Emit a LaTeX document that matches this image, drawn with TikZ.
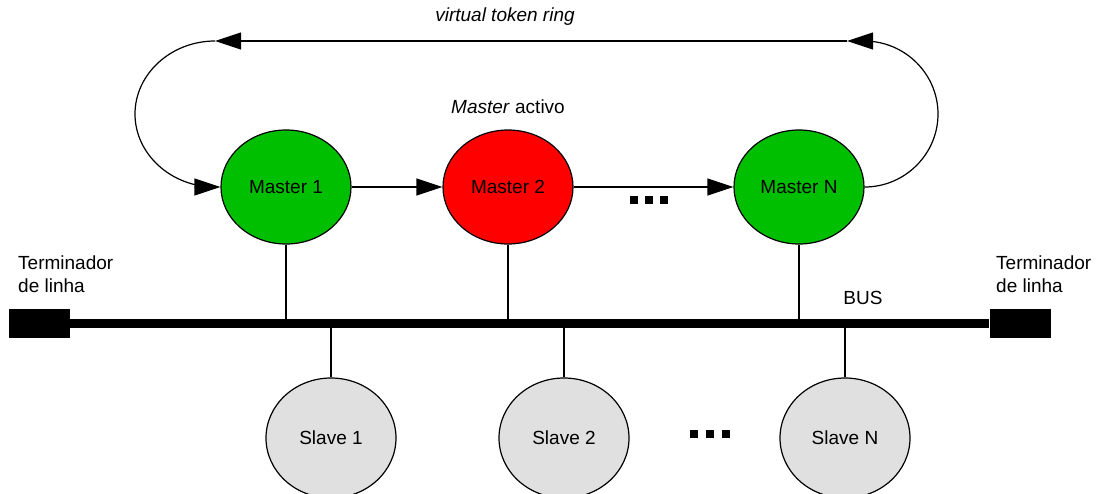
\documentclass[tikz,border=0pt]{standalone}
\usepackage{fontspec}
\setmainfont{Liberation Sans}
\usetikzlibrary{shapes.geometric,arrows.meta}
\definecolor{mgreen}{RGB}{0,190,0}
\definecolor{mred}{RGB}{255,0,0}
\definecolor{sgrey}{RGB}{224,224,224}
\newcommand{\lblfont}{\fontsize{19}{22.5}\selectfont}
\begin{document}
\begin{tikzpicture}[x=1pt,y=-1pt,
  every node/.style={font=\lblfont},
  station/.style={ellipse, draw=black, line width=1.2pt, minimum width=130pt,
    minimum height=114pt, inner sep=0pt},
  master/.style={station, fill=mgreen},
  activemaster/.style={station, fill=mred},
  slave/.style={station, fill=sgrey, minimum height=120pt},
  wire/.style={draw=black, line width=1.2pt},
  ring/.style={wire, -{Triangle[length=26pt,width=17pt]}},
  busline/.style={line width=9pt},
  terminator/.style={rectangle, fill=black, minimum width=61pt,
    minimum height=29pt, inner sep=0pt},
  txt/.style={inner sep=0pt},
  dotsq/.style={fill=black}
]
\useasboundingbox (0,0) rectangle (1100,493);

% stations
\node[master] (M1) at (286,187) {Master 1};
\node[activemaster] (M2) at (508,187) {Master 2};
\node[master] (MN) at (799,187) {Master N};
\node[slave] (S1) at (331,438) {Slave 1};
\node[slave] (S2) at (564,438) {Slave 2};
\node[slave] (SN) at (845,438) {Slave N};

% bus with line terminators
\node[terminator] (TL) at (39.5,323.5) {};
\node[terminator] (TR) at (1020,323.5) {};
\draw[busline] (TL.east) -- (TR.west);

% drops to the bus
\foreach \n in {M1,M2,MN} \draw[wire] (\n.south) -- (\n.south |- TL.center);
\foreach \n in {S1,S2,SN} \draw[wire] (\n.north) -- (\n.north |- TL.center);

% token passing between masters
\draw[ring] (M1.east) -- (M2.west);
\draw[ring] (M2.east) -- (MN.west);

% virtual token ring
\coordinate (rR) at (847,41);
\coordinate (rL) at (215,41);
\draw[ring] (MN.east) .. controls (905,187) and (938,154) .. (938,114)
  .. controls (938,74) and (905,41) .. (864,41) -- (rR);
\draw[ring] (rR) -- (rL);
\draw[ring] (rL) .. controls (171,41) and (135,74) .. (135,114)
  .. controls (135,154) and (171,187) .. (215,187) -- (M1.west);

% ellipsis marks
\foreach \x in {630,645,660} \fill[dotsq] (\x,196) rectangle ++(8,7.5);
\foreach \x in {690,706,722} \fill[dotsq] (\x,430) rectangle ++(8.3,8.3);

% labels
\node[txt, font=\lblfont\itshape] (ringlbl) at (505,17) {virtual token ring};
\node[txt] (actlbl) at (508,107) {\textit{Master} activo};
\node[txt] (buslbl) at (863,298) {BUS};
\node[txt, anchor=north west, align=left] (tlL) at (18,256) {Terminador\\de linha};
\node[txt, anchor=north west, align=left] (tlR) at (996,256) {Terminador\\de linha};
\end{tikzpicture}
\end{document}
